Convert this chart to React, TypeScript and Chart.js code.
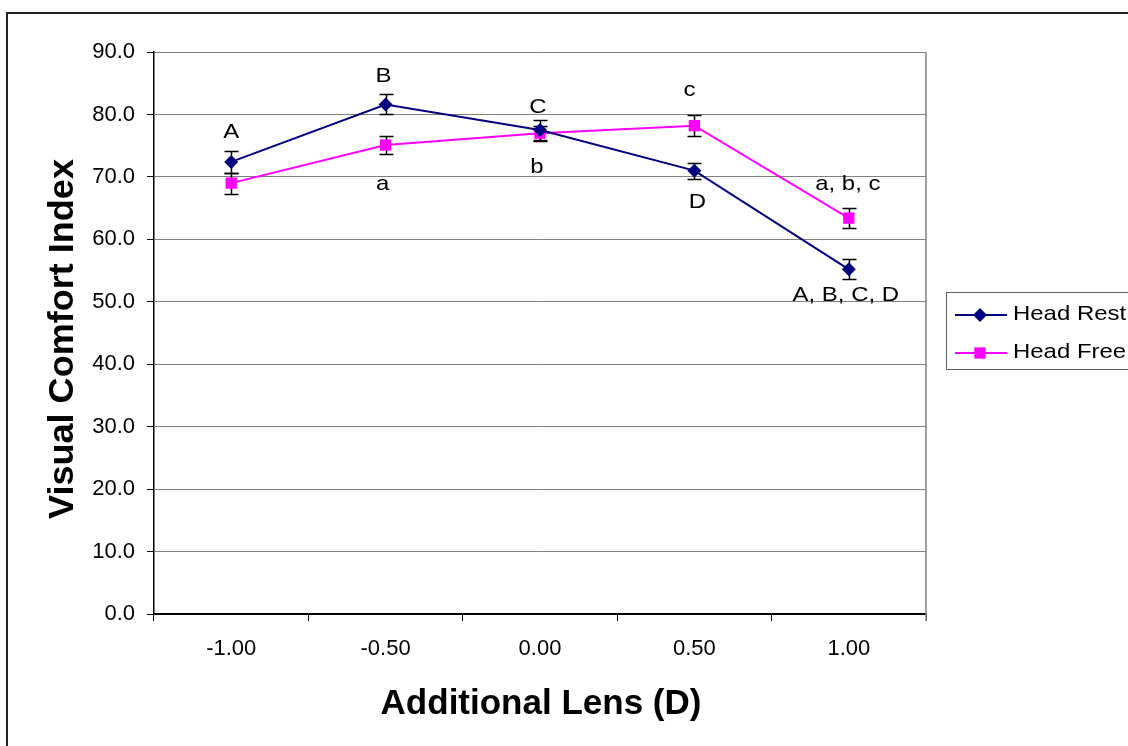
import React, { useEffect, useRef } from 'react';
import { Chart, registerables } from 'chart.js';

Chart.register(...registerables);

const FONT = '"Liberation Sans", Arial, sans-serif';
const NAVY = '#000080';
const MAGENTA = '#FF00FF';
// the chart's lettering is slightly widened
const TEXT_STRETCH = 1.14;

// Additional lens power (dioptres)
const categories = ['-1.00', '-0.50', '0.00', '0.50', '1.00'];

// Visual comfort index, mean and error per condition
const headRest = [72.4, 81.6, 77.5, 71.0, 55.2];
const headRestErr = [1.8, 1.6, 1.6, 1.3, 1.6];
const headFree = [69.0, 75.1, 77.0, 78.2, 63.4];
const headFreeErr = [1.7, 1.5, 1.2, 1.7, 1.6];

const yMin = 0;
const yMax = 90;
const yStep = 10;

// Significance letters: [series index, category index, text]
const letterMarks: [number, number, string][] = [
  [0, 0, 'A'],
  [0, 1, 'B'],
  [0, 2, 'C'],
  [0, 3, 'D'],
  [0, 4, 'A, B, C, D'],
  [1, 1, 'a'],
  [1, 2, 'b'],
  [1, 3, 'c'],
  [1, 4, 'a, b, c'],
];
// Pixel offsets of each letter from its point (dx, dy to baseline)
const letterOffsets: [number, number][] = [
  [0, -24],
  [-2, -22],
  [-2, -17],
  [3, 37],
  [-3, 32],
  [-3, 45],
  [-3, 40],
  [-5, -30],
  [-1, -28],
];

const seriesErrors = [headRestErr, headFreeErr];

function wideText(ctx: CanvasRenderingContext2D, text: string, x: number, y: number) {
  ctx.save();
  ctx.translate(x, y);
  ctx.scale(TEXT_STRETCH, 1);
  ctx.fillText(text, 0, 0);
  ctx.restore();
}

const errorBarPlugin = {
  id: 'errorBars',
  beforeDatasetsDraw(chart: any) {
    const { ctx } = chart;
    const yScale = chart.scales.y;
    ctx.save();
    ctx.strokeStyle = '#000';
    ctx.lineWidth = 1.5;
    chart.data.datasets.forEach((ds: any, di: number) => {
      const meta = chart.getDatasetMeta(di);
      const errs = seriesErrors[di];
      meta.data.forEach((pt: any, i: number) => {
        const v = ds.data[i];
        const top = Math.round(yScale.getPixelForValue(v + errs[i])) + 0.5;
        const bot = Math.round(yScale.getPixelForValue(v - errs[i])) + 0.5;
        const x = Math.round(pt.x) + 0.5;
        ctx.beginPath();
        ctx.moveTo(x, top);
        ctx.lineTo(x, bot);
        ctx.moveTo(x - 7, top);
        ctx.lineTo(x + 7, top);
        ctx.moveTo(x - 7, bot);
        ctx.lineTo(x + 7, bot);
        ctx.stroke();
      });
    });
    ctx.restore();
  },
};

const letterPlugin = {
  id: 'letters',
  afterDatasetsDraw(chart: any) {
    const { ctx } = chart;
    ctx.save();
    ctx.fillStyle = '#000';
    ctx.font = `21px ${FONT}`;
    ctx.textAlign = 'center';
    ctx.textBaseline = 'alphabetic';
    letterMarks.forEach(([si, ci, text], k) => {
      const pt = chart.getDatasetMeta(si).data[ci];
      const [dx, dy] = letterOffsets[k];
      wideText(ctx, text, pt.x + dx, pt.y + dy);
    });
    ctx.restore();
  },
};

function legendMarker(ctx: CanvasRenderingContext2D, style: string, r: number, x: number, y: number) {
  ctx.beginPath();
  if (style === 'rectRot') {
    ctx.moveTo(x, y - r);
    ctx.lineTo(x + r, y);
    ctx.lineTo(x, y + r);
    ctx.lineTo(x - r, y);
    ctx.closePath();
  } else {
    const s = r * Math.SQRT1_2;
    ctx.rect(x - s, y - s, 2 * s, 2 * s);
  }
  ctx.fill();
}

const framePlugin = {
  id: 'frame',
  beforeDraw(chart: any) {
    const { ctx, width, height } = chart;
    ctx.save();
    ctx.fillStyle = '#fff';
    ctx.fillRect(0, 0, width, height);
    ctx.strokeStyle = '#222';
    ctx.lineWidth = 2;
    ctx.beginPath();
    ctx.moveTo(7, height);
    ctx.lineTo(7, 13);
    ctx.lineTo(width, 13);
    ctx.stroke();
    ctx.restore();
  },
  afterDraw(chart: any) {
    const { ctx, chartArea } = chart;
    ctx.save();
    // right edge of the plot area
    ctx.strokeStyle = '#808080';
    ctx.lineWidth = 1.5;
    ctx.beginPath();
    ctx.moveTo(chartArea.right, chartArea.top);
    ctx.lineTo(chartArea.right, chartArea.bottom + 7);
    ctx.stroke();

    // axis titles
    ctx.fillStyle = '#000';
    ctx.font = `bold 35px ${FONT}`;
    ctx.textAlign = 'center';
    ctx.textBaseline = 'alphabetic';
    ctx.fillText('Additional Lens (D)', 541, 714);
    ctx.save();
    ctx.translate(73, 339);
    ctx.rotate(-Math.PI / 2);
    ctx.scale(1.03, 1);
    ctx.fillText('Visual Comfort Index', 0, 0);
    ctx.restore();

    // legend
    const lx = 946.5;
    const ly = 292.5;
    ctx.strokeStyle = '#606060';
    ctx.lineWidth = 1;
    ctx.strokeRect(lx, ly, 300, 77);
    const rows = [
      { label: chart.data.datasets[0].label, color: NAVY, style: 'rectRot', radius: 7, y: 315 },
      { label: chart.data.datasets[1].label, color: MAGENTA, style: 'rect', radius: 8, y: 353 },
    ];
    rows.forEach((r) => {
      ctx.strokeStyle = r.color;
      ctx.lineWidth = 2;
      ctx.beginPath();
      ctx.moveTo(955, r.y);
      ctx.lineTo(1007, r.y);
      ctx.stroke();
      ctx.fillStyle = r.color;
      legendMarker(ctx, r.style, r.radius, 980, r.y);
      ctx.fillStyle = '#000';
      ctx.font = `21px ${FONT}`;
      ctx.textAlign = 'left';
      wideText(ctx, r.label, 1013, r.y + 5);
    });
    ctx.restore();
  },
};

export default function App() {
  const canvasRef = useRef<HTMLCanvasElement>(null);

  useEffect(() => {
    document.body.style.margin = '0';
    const canvas = canvasRef.current;
    if (!canvas) return;
    const chart = new Chart(canvas, {
      type: 'line',
      data: {
        labels: categories,
        datasets: [
          {
            label: 'Head Rest',
            data: headRest,
            borderColor: NAVY,
            backgroundColor: NAVY,
            pointBackgroundColor: NAVY,
            borderWidth: 2,
            pointStyle: 'rectRot',
            pointRadius: 7,
            pointBorderWidth: 0,
            tension: 0,
          },
          {
            label: 'Head Free',
            data: headFree,
            borderColor: MAGENTA,
            backgroundColor: MAGENTA,
            pointBackgroundColor: MAGENTA,
            borderWidth: 2,
            pointStyle: 'rect',
            pointRadius: 8,
            pointBorderWidth: 0,
            tension: 0,
          },
        ],
      },
      options: {
        responsive: false,
        animation: false,
        devicePixelRatio: 1,
        layout: { padding: { top: 52, right: 202, bottom: 0, left: 0 } },
        plugins: {
          legend: { display: false },
          tooltip: { enabled: false },
        },
        scales: {
          x: {
            type: 'category',
            offset: true,
            grid: {
              offset: true,
              drawOnChartArea: false,
              color: '#000',
              tickLength: 7,
              lineWidth: 1,
            },
            border: { color: '#000', width: 1.5 },
            ticks: {
              color: '#000',
              font: { family: FONT, size: 22 },
              padding: 15,
              maxRotation: 0,
            },
            afterFit: (s: any) => {
              s.height = 132;
            },
          },
          y: {
            min: yMin,
            max: yMax,
            ticks: {
              stepSize: yStep,
              color: '#000',
              font: { family: FONT, size: 22 },
              padding: 12,
              callback: (v: any) => Number(v).toFixed(1),
            },
            grid: {
              color: (c: any) => (c.tick && c.tick.value === 0 ? '#000' : '#808080'),
              tickColor: '#000',
              tickLength: 7,
              lineWidth: 1,
            },
            border: { color: '#000', width: 1.5 },
            afterFit: (s: any) => {
              s.width = 154;
            },
          },
        },
      },
      plugins: [framePlugin, errorBarPlugin, letterPlugin],
    } as any);
    return () => chart.destroy();
  }, []);

  return (
    <div style={{ width: 1128, height: 746 }}>
      <canvas ref={canvasRef} width={1128} height={746} style={{ display: 'block' }} />
    </div>
  );
}
